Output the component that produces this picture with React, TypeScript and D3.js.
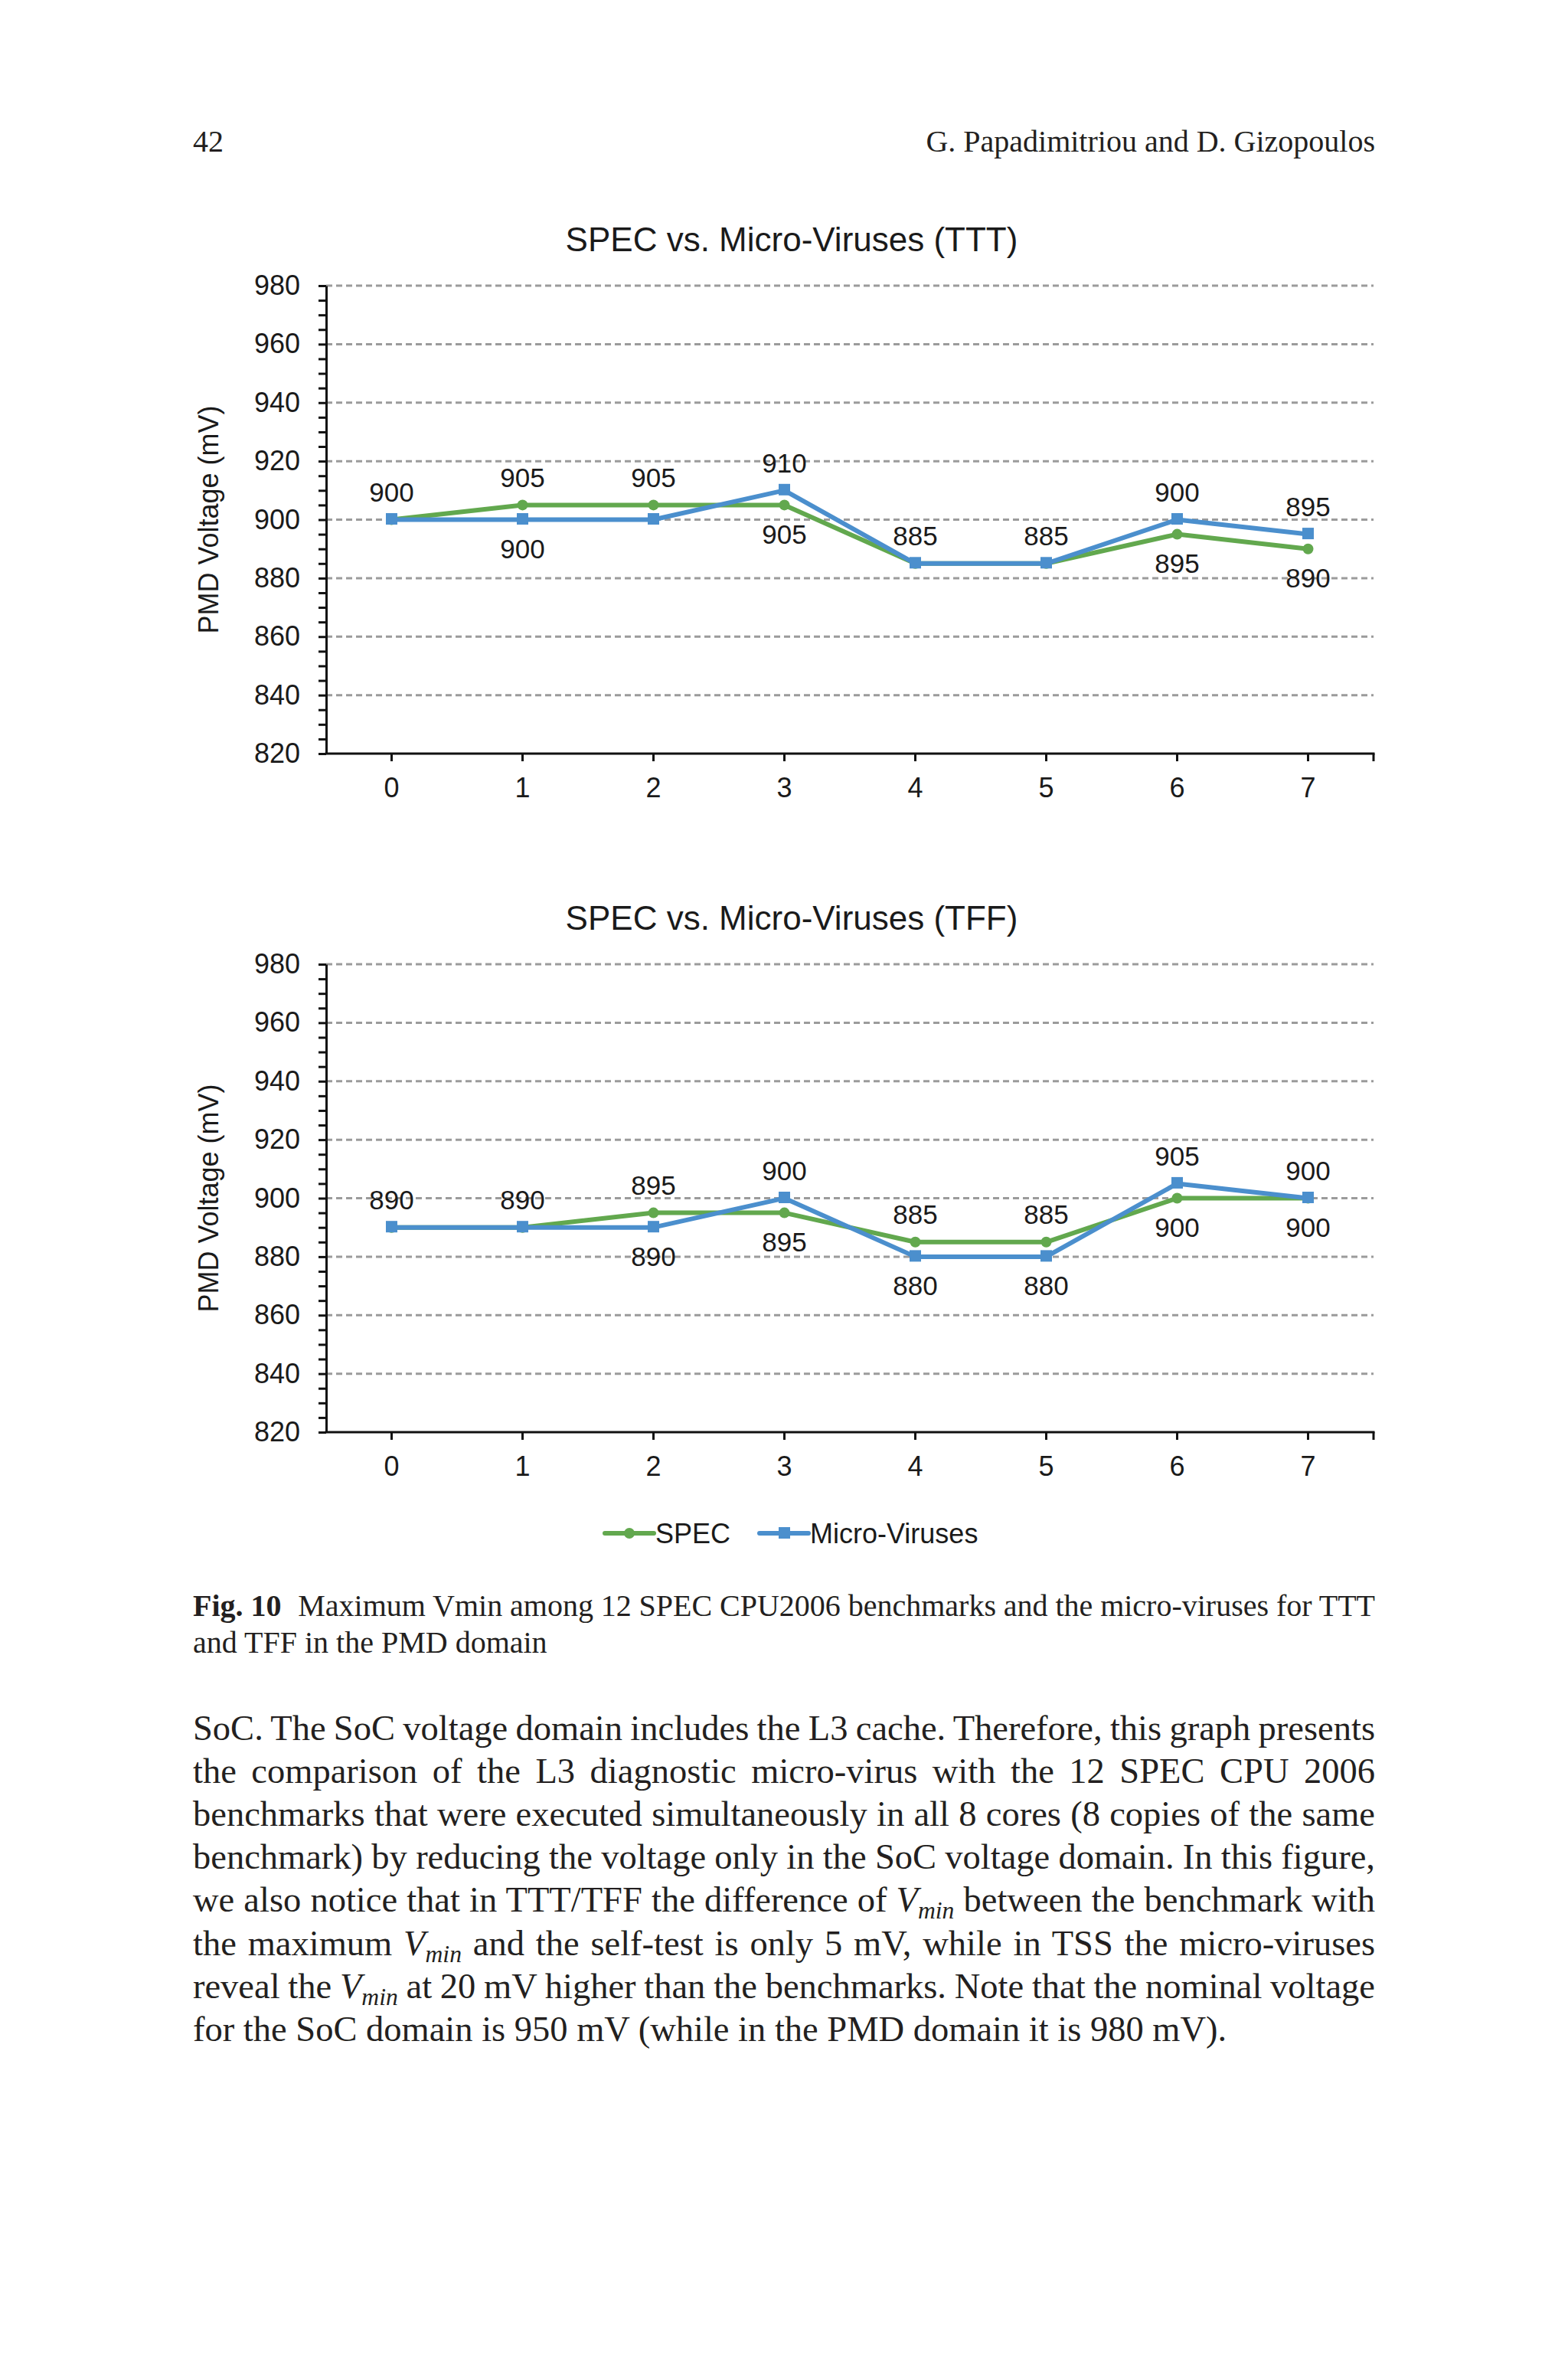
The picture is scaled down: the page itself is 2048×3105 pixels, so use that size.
import { useEffect, useRef } from 'react';
import * as d3 from 'd3';

const categories = ['0', '1', '2', '3', '4', '5', '6', '7'];
const seriesNames = ['SPEC', 'Micro-Viruses'];

const tttSpec = [900, 905, 905, 905, 885, 885, 895, 890];
const tttMicro = [900, 900, 900, 910, 885, 885, 900, 895];
const tffSpec = [890, 890, 895, 895, 885, 885, 900, 900];
const tffMicro = [890, 890, 890, 900, 880, 880, 905, 900];

// data labels shown in the figure: 'a' = above the point, 'b' = below, '' = none
const tttSpecLabels = ['a', 'a', 'a', 'b', 'a', 'a', 'b', 'b'];
const tttMicroLabels = ['', 'b', '', 'a', '', '', 'a', 'a'];
const tffSpecLabels = ['a', 'a', 'a', 'b', 'a', 'a', 'b', 'b'];
const tffMicroLabels = ['', '', 'b', 'a', 'b', 'b', 'a', 'a'];

const yMajorTicks = [820, 840, 860, 880, 900, 920, 940, 960, 980];
const chartTitles = ['SPEC vs. Micro-Viruses (TTT)', 'SPEC vs. Micro-Viruses (TFF)'];
const yLabel = 'PMD Voltage (mV)';

const pageNumber = '42';
const authors = 'G. Papadimitriou and D. Gizopoulos';
const captionLabel = 'Fig. 10';
const captionLines = [
  'Maximum Vmin among 12 SPEC CPU2006 benchmarks and the micro-viruses for TTT',
  'and TFF in the PMD domain',
];
const bodyLines = [
  'SoC. The SoC voltage domain includes the L3 cache. Therefore, this graph presents',
  'the comparison of the L3 diagnostic micro-virus with the 12 SPEC CPU 2006',
  'benchmarks that were executed simultaneously in all 8 cores (8 copies of the same',
  'benchmark) by reducing the voltage only in the SoC voltage domain. In this figure,',
  'we also notice that in TTT/TFF the difference of {Vmin} between the benchmark with',
  'the maximum {Vmin} and the self-test is only 5 mV, while in TSS the micro-viruses',
  'reveal the {Vmin} at 20 mV higher than the benchmarks. Note that the nominal voltage',
  'for the SoC domain is 950 mV (while in the PMD domain it is 980 mV).',
];

const GREEN = '#62a84e';
const BLUE = '#4b8fcd';
const SANS = '"Liberation Sans", Arial, sans-serif';
const SERIF = '"Liberation Serif", "Times New Roman", serif';

const width = 2048;
const height = 3105;
const plotLeft = 426;
const plotRight = 1794;
const textLeft = 252;
const textRight = 1796;

const App = () => {
  const ref = useRef<SVGSVGElement>(null);

  useEffect(() => {
    const svg = d3.select(ref.current);
    svg.selectAll('*').remove();

    const drawChart = (top: number, title: string, spec: number[], micro: number[], specLab: string[], microLab: string[]) => {
      const bottom = top + 611;
      const g = svg.append('g');
      const x = d3.scaleBand().domain(categories).range([plotLeft, plotRight]);
      const cx = (c: string) => (x(c) as number) + x.bandwidth() / 2;
      const y = d3.scaleLinear().domain([820, 980]).range([bottom, top]);

      g.append('text')
        .attr('x', 1034).attr('y', top - 45)
        .attr('text-anchor', 'middle')
        .attr('font-family', SANS).attr('font-size', 44).attr('fill', '#1a1a1a')
        .text(title);

      // dashed gridlines
      g.selectAll('line.grid')
        .data(yMajorTicks.filter(d => d > 820))
        .enter().append('line')
        .attr('x1', plotLeft).attr('x2', plotRight)
        .attr('y1', d => y(d)).attr('y2', d => y(d))
        .attr('stroke', '#9b9b9b').attr('stroke-width', 3).attr('stroke-dasharray', '8,5');

      const yAxis = d3.axisLeft(y)
        .tickValues(d3.range(820, 981, 5))
        .tickSize(10)
        .tickSizeOuter(0)
        .tickPadding(24)
        .tickFormat((d: any) => (d % 20 === 0 ? String(d) : ''));
      const ya = g.append('g').attr('transform', `translate(${plotLeft},0)`).call(yAxis);
      ya.select('.domain').attr('stroke', '#111').attr('stroke-width', 3);
      ya.selectAll('.tick line').attr('stroke', '#111').attr('stroke-width', 3);
      ya.selectAll('.tick text').attr('font-family', SANS).attr('font-size', 36).attr('fill', '#1a1a1a');

      // x axis
      g.append('line')
        .attr('x1', plotLeft - 1.5).attr('x2', plotRight + 1.5)
        .attr('y1', bottom).attr('y2', bottom)
        .attr('stroke', '#111').attr('stroke-width', 3);
      const xTickPos = [...categories.map(cx), plotRight];
      g.selectAll('line.xt')
        .data(xTickPos)
        .enter().append('line')
        .attr('x1', d => d).attr('x2', d => d)
        .attr('y1', bottom).attr('y2', bottom + 10)
        .attr('stroke', '#111').attr('stroke-width', 3);
      g.selectAll('text.xl')
        .data(categories)
        .enter().append('text')
        .attr('x', d => cx(d)).attr('y', bottom + 57)
        .attr('text-anchor', 'middle')
        .attr('font-family', SANS).attr('font-size', 36).attr('fill', '#1a1a1a')
        .text(d => d);

      g.append('text')
        .attr('transform', `translate(272,${(top + bottom) / 2}) rotate(-90)`)
        .attr('text-anchor', 'middle').attr('dominant-baseline', 'central')
        .attr('font-family', SANS).attr('font-size', 36).attr('fill', '#1a1a1a')
        .text(yLabel);

      const line = d3.line<number>().x((_, i) => cx(categories[i])).y(d => y(d));
      const series = [
        { values: spec, labels: specLab, color: GREEN, square: false },
        { values: micro, labels: microLab, color: BLUE, square: true },
      ];
      series.forEach(s => {
        g.append('path')
          .attr('d', line(s.values))
          .attr('fill', 'none').attr('stroke', s.color).attr('stroke-width', 6)
          .attr('stroke-linejoin', 'round');
        if (s.square) {
          g.selectAll(null)
            .data(s.values)
            .enter().append('rect')
            .attr('x', (_, i) => cx(categories[i]) - 7.5).attr('y', d => y(d) - 8.5)
            .attr('width', 15).attr('height', 15)
            .attr('fill', s.color);
        } else {
          g.selectAll(null)
            .data(s.values)
            .enter().append('circle')
            .attr('cx', (_, i) => cx(categories[i])).attr('cy', d => y(d))
            .attr('r', 7)
            .attr('fill', s.color);
        }
      });
      series.forEach(s => {
        g.selectAll(null)
          .data(s.values.map((v, i) => ({ v, i, pos: s.labels[i] })).filter(d => d.pos !== ''))
          .enter().append('text')
          .attr('x', d => cx(categories[d.i]))
          .attr('y', d => (d.pos === 'a' ? y(d.v) - 36 : y(d.v) + 38))
          .attr('text-anchor', 'middle').attr('dominant-baseline', 'central')
          .attr('font-family', SANS).attr('font-size', 35).attr('fill', '#1a1a1a')
          .text(d => String(d.v));
      });
    };

    drawChart(373, chartTitles[0], tttSpec, tttMicro, tttSpecLabels, tttMicroLabels);
    drawChart(1259, chartTitles[1], tffSpec, tffMicro, tffSpecLabels, tffMicroLabels);

    // legend
    const legY = 2002;
    const leg = svg.append('g');
    const legItems = [
      { name: seriesNames[0], color: GREEN, x0: 790, square: false },
      { name: seriesNames[1], color: BLUE, x0: 992, square: true },
    ];
    legItems.forEach(it => {
      leg.append('line')
        .attr('x1', it.x0).attr('x2', it.x0 + 64).attr('y1', legY).attr('y2', legY)
        .attr('stroke', it.color).attr('stroke-width', 6).attr('stroke-linecap', 'round');
      if (it.square) {
        leg.append('rect').attr('x', it.x0 + 25).attr('y', legY - 8).attr('width', 15).attr('height', 15).attr('fill', it.color);
      } else {
        leg.append('circle').attr('cx', it.x0 + 32).attr('cy', legY).attr('r', 7).attr('fill', it.color);
      }
      leg.append('text')
        .attr('x', it.x0 + 66).attr('y', legY).attr('dominant-baseline', 'central')
        .attr('font-family', SANS).attr('font-size', 36).attr('fill', '#1a1a1a')
        .text(it.name);
    });

    // page header
    svg.append('text').attr('x', textLeft).attr('y', 198)
      .attr('font-family', SERIF).attr('font-size', 40).attr('fill', '#231f20').text(pageNumber);
    svg.append('text').attr('x', textRight).attr('y', 198).attr('text-anchor', 'end')
      .attr('font-family', SERIF).attr('font-size', 40).attr('fill', '#231f20').text(authors);

    // stretch word spacing so the line fills the text block
    const justify = (t: any, spaces: number) => {
      if (spaces <= 0) return;
      let ws = 0;
      for (let k = 0; k < 3; k++) {
        const w = (t.node() as SVGTextElement).getBBox().width;
        ws += (textRight - textLeft - w) / spaces;
        t.attr('word-spacing', ws);
      }
    };

    // caption
    const cap1 = svg.append('text').attr('x', textLeft).attr('y', 2110)
      .attr('font-family', SERIF).attr('font-size', 40).attr('fill', '#231f20');
    cap1.append('tspan').attr('font-weight', 'bold').text(captionLabel);
    cap1.append('tspan').attr('dx', 12).text(' ' + captionLines[0]);
    justify(cap1, (captionLabel + ' ' + captionLines[0]).split(' ').length - 1);
    svg.append('text').attr('x', textLeft).attr('y', 2158)
      .attr('font-family', SERIF).attr('font-size', 40).attr('fill', '#231f20')
      .text(captionLines[1]);

    // body text
    const bodySize = 46.5;
    bodyLines.forEach((ln, li) => {
      const t = svg.append('text').attr('x', textLeft).attr('y', 2272 + li * 56.1)
        .attr('font-family', SERIF).attr('font-size', bodySize).attr('fill', '#231f20');
      const parts = ln.split('{Vmin}');
      parts.forEach((p, pi) => {
        const sp = t.append('tspan').text(p);
        if (pi > 0) sp.attr('dy', -9);
        if (pi < parts.length - 1) {
          t.append('tspan').attr('font-style', 'italic').text('V');
          t.append('tspan').attr('font-style', 'italic').attr('font-size', bodySize * 0.68).attr('dy', 9).text('min');
        }
      });
      if (li < bodyLines.length - 1) justify(t, ln.split(' ').length - 1);
    });
  }, []);

  return (
    <svg
      ref={ref}
      width={width}
      height={height}
      viewBox={`0 0 ${width} ${height}`}
      style={{ position: 'absolute', left: 0, top: 0, background: '#fff' }}
    />
  );
};

export default App;
